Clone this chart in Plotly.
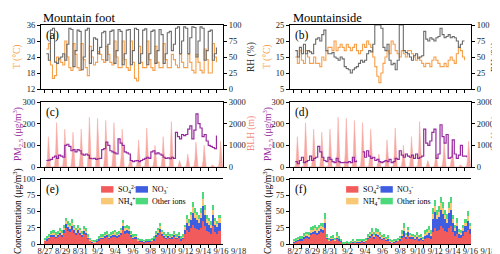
import pandas as pd
import plotly.graph_objects as go

N = None
# ---------------- data (6-hourly from 8/27 00:00, 22 days) ----------------
T_foot = [N, 27, 29, 21,  16, 17, 24, 23,  22, 21, 30, 24,  20, 19, 29, 25,
          20, 19, 29, 23,  20, 17, 28, 24,  21, 22, 26, 25,  23, 22, 28, 25,
          22, 21, 30, 24,  20, 20, 30, 23,  20, 19, 30, 22,  16, 15, 28, 22,
          20, 20, 30, 23,  20, 19, 28, 22,  20, 20, 29, 23,  20, 20, 25, 23,
          21, 20, 25, 22,  20, 20, 25, 22,  19, 18, 25, 22,  19, 18, 27, 23,
          18, 18, 29, 24,  22, N, N, N]
RH_foot = [N, 55, 45, 92,  95, 42, 40, 48,  50, 55, 45, 70,  95, 93, 35, 60,
           92, 90, 30, 50,  92, 95, 40, 60,  80, 78, 55, 65,  88, 90, 45, 70,
           90, 92, 40, 60,  93, 90, 38, 55,  92, 93, 38, 60,  95, 93, 40, 55,
           92, 94, 38, 55,  90, 92, 40, 60,  93, 85, 40, 55,  88, 90, 60, 70,
           95, 97, 55, 75,  97, 95, 55, 80,  97, 96, 50, 75,  97, 95, 45, 60,
           90, 92, 45, 55,  65, N, N, N]
T_side = [N, 15, 13, 17,  14, 13, 17, 15,  13, 13, 15, 13,  13, 12, 15, 14,
          17, 18, 18, 17,  20, 17, 18, 19,  18, 17, 19, 18,  17, 18, 19, 17,
          16, 17, 19, 18,  20, 19, 18, 15,  12, 9, 7, 10,  13, 15, 17, 16,
          20, 19, 17, 16,  15, 17, 16, 15,  17, 17, 16, 15,  14, 15, 14, 13,
          12, 13, 13, 12,  14, 15, 14, 13,  12, 12, 13, 12,  14, 15, 14, 13,
          16, 18, 17, 15,  14, N, N, N]
RH_side = [N, 60, 50, 65,  55, 70, 55, 60,  58, 55, 70, 78,  80, 75, 85, 92,
           60, 55, 55, 57,  50, 48, 45, 50,  47, 35, 32, 30,  25, 30, 33, 35,
           40, 45, 42, 45,  55, 60, 58, 70,  100, 100, 100, 95,  65, 60, 70, 45,
           38, 40, 30, 45,  100, 100, 60, 57,  55, 50, 45, 52,  55, 48, 50, 52,
           90, 78, 75, 80,  78, 75, 80, 82,  95, 85, 80, 82,  85, 80, 82, 80,
           75, 65, 70, 75,  75, N, N, N]
PM_foot = [N, 30, 32, 35,  45, 50, 40, 55,  50, 45, 100, 105,  95, 75, 80, 70,
           80, 75, 60, 55,  60, 55, 40, 38,  40, 35, 38, 40,  80, 85, 115, 100,
           75, 70, 65, 60,  130, 110, 100, 70,  65, 60, 30, 25,  28, 30, 25, 30,
           35, 40, 45, 40,  70, 75, 60, 65,  60, 55, 45, 40,  42, 38, 45, 40,
           160, 140, 130, 150,  145, 150, 175, 190,  130, 170, 245, 200,
           180, 140, 150, 120,  100, 95, 90, 85,  145, N, N, N]
PM_side = [N, 25, 15, 30,  45, 20, 25, 30,  50, 30, 40, 45,  95, 70, 45, 30,
           25, 45, 35, 25,  20, 40, 25, 20,  20, 22, 20, 25,  20, 45, 25, 30,
           N, N, 70, 45,  75, 50, 40, 45,  30, 35, 25, 20,  25, 30, 25, 35,
           20, 25, 40, 35,  75, 55, 45, 60,  50, 45, 55, 40,  60, 40, 45, 50,
           175, 110, 100, 120,  160, 175, 40, 60,  195, 140, 110, 150,
           40, 45, 125, 60,  40, 55, 100, 50,  50, 45, N, N]
# BLH, 3-hourly from 8/27 00:00
BLH = [0, 0, 20, 400, 1400, 700, 30, 0,
       0, 0, 30, 600, 2050, 1100, 40, 0,
       0, 0, 30, 500, 1750, 900, 30, 0,
       0, 0, 20, 450, 1600, 800, 30, 0,
       0, 0, 30, 500, 1750, 900, 30, 0,
       0, 0, 40, 700, 2300, 1200, 40, 0,
       0, 0, 40, 650, 2250, 1150, 40, 0,
       0, 0, 40, 600, 2150, 1100, 30, 0,
       0, 0, 30, 600, 2050, 1000, 30, 0,
       0, 0, 30, 500, 1750, 900, 30, 0,
       0, 0, 10, 200, 600, 300, 10, 0,
       0, 0, 20, 400, 1250, 600, 20, 0,
       0, 0, 30, 550, 1800, 900, 30, 0,
       0, 0, 20, 300, 1000, 500, 20, 0,
       0, 0, 20, 400, 1400, 700, 20, 0,
       0, 0, 30, 650, 2100, 1000, 30, 0,
       0, 0, 0, 100, 300, 150, 0, 0,
       0, 0, 10, 200, 600, 300, 10, 0,
       0, 0, 20, 350, 1150, 550, 20, 0,
       0, 0, 20, 300, 1000, 500, 20, 0,
       0, 0, 0, 40, 100, 50, 0, 0,
       0, 0, 20, 350, 1200, 600, 20, 0]

SO4_e = [5, 6, 8, 11, 12, 10, 11, 14, 12, 17, 24, 20, 18, 22, 17, 14, 17, 14, 11, 16,
         14, 8, 5, 3, 2, 4, 6, 8, 8, 10, 11, 8, 10, 11, 12, 10, 11, 14, 22, 16,
         17, 16, 11, 8, 9, 5, 4, 4, 3, 4, 4, 4, 5, 6, 11, 14, 18, 12, 10, 8,
         10, 8, 9, 11, 8, 10, 6, 8, 15, 22, 18, 24, 30, 25, 23, 21, 25, 35, 27, 20,
         18, 16, 27, 18, 16, 20, N, N]
NO3_e = [1, 2, 2, 3, 3, 2, 3, 4, 3, 5, 7, 6, 5, 6, 5, 4, 5, 4, 3, 4,
         4, 2, 1, 1, 1, 1, 2, 2, 2, 3, 3, 2, 3, 3, 3, 3, 3, 4, 6, 5,
         5, 4, 3, 2, 2, 1, 1, 1, 1, 1, 1, 1, 1, 2, 3, 4, 5, 4, 3, 2,
         3, 2, 2, 3, 2, 3, 2, 2, 7, 11, 10, 13, 18, 15, 14, 12, 15, 24, 17, 12,
         11, 9, 17, 11, 10, 13, N, N]
NH4_e = [1, 1, 2, 2, 2, 2, 2, 2, 2, 3, 4, 4, 4, 4, 3, 3, 3, 3, 2, 3,
         2, 2, 1, 1, 1, 1, 1, 2, 2, 2, 2, 2, 2, 2, 3, 2, 2, 3, 4, 3,
         3, 3, 2, 2, 2, 1, 1, 1, 1, 1, 1, 1, 1, 1, 2, 3, 4, 2, 2, 2,
         2, 2, 2, 2, 2, 2, 1, 2, 4, 6, 5, 7, 9, 8, 7, 6, 8, 11, 9, 7,
         6, 5, 9, 6, 5, 7, N, N]
OTH_e = [3, 3, 3, 4, 5, 4, 4, 5, 5, 5, 5, 5, 5, 6, 5, 4, 5, 4, 4, 5,
         5, 3, 3, 1, 1, 2, 3, 3, 3, 3, 4, 3, 3, 4, 4, 3, 4, 4, 5, 4,
         5, 5, 4, 3, 3, 3, 2, 1, 1, 2, 1, 2, 3, 3, 4, 4, 5, 4, 3, 3,
         3, 3, 3, 4, 3, 3, 3, 3, 4, 6, 5, 6, 8, 7, 6, 6, 7, 10, 7, 6,
         5, 5, 7, 5, 4, 5, N, N]
SO4_f = [3, 4, 5, 6, 6, 8, 10, 9, 14, 15, 16, 14, 16, 18, 17, 25, 8, 5, 6, 7,
         5, 8, 6, 4, 1, 1, 2, 1, 2, 3, 2, 3, 3, 4, 3, 5, 8, 10, 12, 9,
         12, 11, 9, 7, 8, 5, 6, 3, 2, 3, 4, 5, 6, 9, 11, 8, 13, 9, 8, 7,
         8, 6, 7, 5, 8, 9, 10, 8, 18, 25, 20, 22, 28, 24, 20, 18, 25, 28, 18, 12,
         15, 10, 9, 12, 18, 22, 15, N]
NO3_f = [1, 1, 2, 2, 2, 3, 3, 3, 4, 4, 5, 4, 5, 5, 5, 8, 2, 1, 2, 2,
         1, 2, 2, 1, 0, 0, 0, 0, 0, 1, 0, 1, 1, 1, 1, 1, 2, 3, 4, 3,
         4, 4, 3, 2, 2, 2, 2, 1, 1, 1, 1, 1, 2, 4, 9, 4, 6, 3, 3, 2,
         4, 3, 3, 2, 5, 6, 7, 5, 20, 24, 18, 20, 25, 22, 18, 15, 22, 25, 14, 8,
         12, 6, 5, 8, 10, 14, 8, N]
NH4_f = [1, 1, 1, 1, 1, 2, 2, 2, 3, 3, 3, 3, 3, 4, 4, 5, 2, 1, 1, 1,
         1, 2, 1, 1, 0, 0, 1, 0, 1, 1, 1, 1, 1, 1, 1, 1, 2, 2, 3, 2,
         3, 3, 2, 2, 2, 1, 2, 1, 1, 1, 1, 1, 2, 3, 5, 2, 3, 2, 2, 2,
         2, 2, 2, 1, 3, 3, 4, 3, 8, 9, 7, 8, 10, 9, 7, 6, 9, 10, 6, 4,
         6, 3, 3, 4, 5, 7, 4, N]
OTH_f = [2, 3, 3, 3, 3, 4, 4, 4, 5, 5, 5, 5, 5, 6, 6, 9, 3, 3, 4, 4,
         3, 6, 3, 2, 1, 1, 1, 1, 2, 2, 2, 2, 2, 2, 2, 3, 3, 4, 5, 4,
         5, 5, 4, 3, 3, 3, 4, 2, 1, 2, 2, 2, 3, 5, 8, 3, 4, 3, 3, 3,
         4, 3, 3, 3, 5, 5, 6, 5, 9, 9, 8, 8, 9, 9, 8, 7, 9, 10, 7, 5,
         7, 4, 4, 5, 6, 8, 5, N]

date_labels = ["8/27", "8/29", "8/31", "9/2", "9/4", "9/6", "9/8",
               "9/10", "9/12", "9/14", "9/16", "9/18"]

# ---------------- figure ----------------
YEAR = "2020"
t6 = pd.date_range(YEAR + "-08-27", periods=88, freq="6h")
t3 = pd.date_range(YEAR + "-08-27", periods=176, freq="3h")
t0 = pd.Timestamp(YEAR + "-08-27")
DAY = pd.Timedelta(days=1)
# label positions as day offsets from 8/27 (linear label axis)
label_days = [(pd.Timestamp(YEAR + "-%02d-%02d" % tuple(int(p) for p in s.split("/"))) - t0) / DAY
              for s in date_labels]

C_T = "#F7A04B"
C_RH = "#6B6B6B"
C_PM = "#962A9E"
C_BLH = "#F7A6A0"
C_SO4 = "#F25B5B"
C_NO3 = "#3F5DE0"
C_NH4 = "#F9C874"
C_OTH = "#4CD97B"
FONT = "Liberation Serif"

def ts(t):
    return pd.Timestamp(t).round("s").strftime("%Y-%m-%d %H:%M:%S")

W, H = 500, 254

def label_range(px_left, px_first, px_per_day, px_right):
    start = -(px_first - px_left) / px_per_day
    end = start + (px_right - px_left) / px_per_day
    return [start, end]

LAB_L = (17, 37, 8.8, 247)
LAB_R = (267, 287, 8.77, 497)
rng7 = label_range(*LAB_L)
rng8 = label_range(*LAB_R)

fig = go.Figure()

def line(x, y, xa, ya, color, width=1.1):
    fig.add_trace(go.Scatter(x=x, y=y, xaxis=xa, yaxis=ya, mode="lines",
                             line=dict(color=color, width=width, shape="hv"),
                             connectgaps=False, showlegend=False))

line(t6, T_foot, "x", "y", C_T)
line(t6, RH_foot, "x", "y2", C_RH)
line(t6, T_side, "x2", "y3", C_T)
line(t6, RH_side, "x2", "y4", C_RH)
for xa, ya, ya2, pm in [("x3", "y5", "y6", PM_foot), ("x4", "y7", "y8", PM_side)]:
    fig.add_trace(go.Scatter(x=t3, y=BLH, xaxis=xa, yaxis=ya, mode="lines",
                             fill="tozeroy", fillcolor=C_BLH, line=dict(color=C_BLH, width=0.5),
                             showlegend=False))
    line(t6, pm, xa, ya2, C_PM, 1.2)
W6 = 6 * 3600 * 1000
for comps, xa, ya in [((SO4_e, NO3_e, NH4_e, OTH_e), "x5", "y9"),
                      ((SO4_f, NO3_f, NH4_f, OTH_f), "x6", "y10")]:
    for vals, col in zip(comps, (C_SO4, C_NO3, C_NH4, C_OTH)):
        fig.add_trace(go.Bar(x=t6, y=vals, xaxis=xa, yaxis=ya, marker_color=col,
                             marker_line_width=0, width=W6, offset=0, showlegend=False))
# invisible carriers for the date-label axes of the bottom row
for xa, ya, rg in [("x7", "y9", rng7), ("x8", "y10", rng8)]:
    fig.add_trace(go.Scatter(x=rg, y=[-50, -50], xaxis=xa, yaxis=ya, mode="lines",
                             line=dict(width=0, color="rgba(0,0,0,0)"),
                             hoverinfo="skip", showlegend=False))

LX = [33 / W, 215 / W]
RX = [282 / W, 463 / W]
R1 = [1 - 81 / H, 1 - 17 / H]
R2 = [1 - 159 / H, 1 - 94 / H]
R3 = [1 - 236 / H, 1 - 171 / H]
xr = [ts(t0 - 0.4 * DAY), ts(t0 + 21.8 * DAY)]

tickfont = dict(family=FONT, size=8.5, color="#222222")
ax_common = dict(showline=True, linecolor="black", linewidth=1, ticks="outside",
                 ticklen=3, tickwidth=1, tickcolor="black", showgrid=False,
                 zeroline=False, tickfont=tickfont, automargin=False)

def xax(domain, anchor):
    return dict(ax_common, domain=domain, anchor=anchor, range=xr, type="date", mirror=True,
                tickmode="linear", tick0=ts(t0), dtick=86400000, showticklabels=False)

def label_axis(geom, rg, anchor):
    return dict(domain=[geom[0] / W, geom[3] / W], anchor=anchor, type="linear",
                range=rg, autorange=False, showline=False, showgrid=False, automargin=False,
                zeroline=False, ticks="", tickmode="array", tickvals=label_days,
                ticktext=date_labels, tickangle=0,
                tickfont=dict(family=FONT, size=8.5, color="#222222"))

def yax(domain, anchor, rng, dtick, side="left", overlay=None):
    d = dict(ax_common, domain=domain, anchor=anchor, range=rng, dtick=dtick, side=side)
    if overlay:
        d["overlaying"] = overlay
    return d

fig.update_layout(
    width=W, height=H, margin=dict(l=0, r=0, t=0, b=0),
    paper_bgcolor="white", plot_bgcolor="rgba(0,0,0,0)",
    barmode="stack", bargap=0,
    font=dict(family=FONT, size=9, color="black"),
    xaxis=xax(LX, "y"),
    xaxis2=xax(RX, "y3"),
    xaxis3=xax(LX, "y5"),
    xaxis4=xax(RX, "y7"),
    xaxis5=xax(LX, "y9"),
    xaxis6=xax(RX, "y10"),
    xaxis7=label_axis(LAB_L, rng7, "y9"),
    xaxis8=label_axis(LAB_R, rng8, "y10"),
    yaxis=yax(R1, "x", [12, 36], 6),
    yaxis2=yax(R1, "x", [0, 100], 25, "right", "y"),
    yaxis3=yax(R1, "x2", [5, 25], 5),
    yaxis4=yax(R1, "x2", [0, 100], 25, "right", "y3"),
    yaxis5=yax(R2, "x3", [0, 3000], 1000, "right"),
    yaxis6=yax(R2, "x3", [0, 300], 100, "left", "y5"),
    yaxis7=yax(R2, "x4", [0, 3000], 1000, "right"),
    yaxis8=yax(R2, "x4", [0, 300], 100, "left", "y7"),
    yaxis9=yax(R3, "x5", [0, 100], 25),
    yaxis10=yax(R3, "x6", [0, 100], 25),
)

ann = []
def pa(text, x, y, color="black", size=9.5, angle=-90, xanchor="center", yanchor="middle"):
    ann.append(dict(text=text, xref="paper", yref="paper", x=x / W, y=1 - y / H,
                    xanchor=xanchor, yanchor=yanchor, showarrow=False, textangle=angle,
                    font=dict(family=FONT, size=size, color=color)))

pa("Mountain foot", 33, 1, size=12.5, angle=0, xanchor="left", yanchor="top")
pa("Mountainside", 283, 1, size=12.5, angle=0, xanchor="left", yanchor="top")
PMT = "PM<sub>2.5</sub> (μg/m<sup>3</sup>)"
CT = "Concentration (μg/m<sup>3</sup>)"
for off, roff in ((0, 243), (250, 487)):
    pa("T (°C)", 9 + off, 49, C_T)
    pa("RH (%)", roff, 49, "#333333")
    pa(PMT, 9 + off, 126, C_PM)
    pa("BLH (m)", roff, 126, "#F28C84")
    pa(CT, 9 + off, 203, "black")

for lab, xa, ya in [("(a)", "x", "y"), ("(b)", "x2", "y3"), ("(c)", "x3", "y5"),
                    ("(d)", "x4", "y7"), ("(e)", "x5", "y9"), ("(f)", "x6", "y10")]:
    ann.append(dict(text=lab, xref=xa + " domain", yref=ya + " domain", x=0.015, y=0.97,
                    xanchor="left", yanchor="top", showarrow=False,
                    font=dict(family=FONT, size=11.5, color="black")))

shapes = []
legend_items = [("SO<sub>4</sub><sup>2-</sup>", C_SO4, 0, 0), ("NO<sub>3</sub><sup>-</sup>", C_NO3, 1, 0),
                ("NH<sub>4</sub><sup>+</sup>", C_NH4, 0, 1), ("Other ions", C_OTH, 1, 1)]
for xa, ya, x0, dxcol in [("x5", "y9", 0.33, 0.19), ("x6", "y10", 0.31, 0.19)]:
    for txt, col, c, r in legend_items:
        sx = x0 + c * dxcol
        sy = 0.89 - r * 0.18
        shapes.append(dict(type="rect", xref=xa + " domain", yref=ya + " domain",
                           x0=sx, x1=sx + 0.068, y0=sy - 0.1, y1=sy, fillcolor=col,
                           line=dict(width=0)))
        ann.append(dict(text=txt, xref=xa + " domain", yref=ya + " domain",
                        x=sx + 0.08, y=sy - 0.05, xanchor="left", yanchor="middle",
                        showarrow=False, font=dict(family=FONT, size=8, color="black")))

fig.update_layout(annotations=ann, shapes=shapes)
fig.write_html("out.html")
